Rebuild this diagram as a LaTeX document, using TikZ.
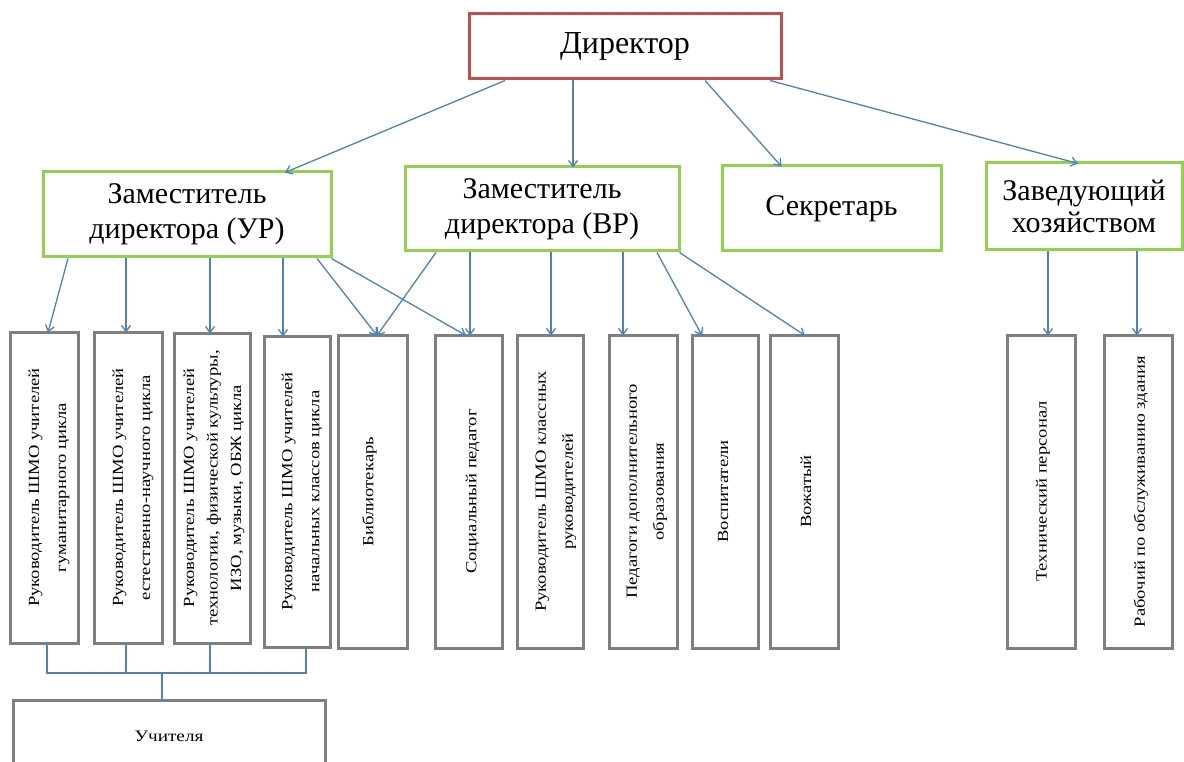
\documentclass[tikz,border=0pt]{standalone}
\usepackage{fontspec}
\setmainfont{Liberation Serif}
\newfontfamily\vfont[FakeStretch=1.2]{Liberation Serif}
\usetikzlibrary{arrows.meta}
\definecolor{dirred}{HTML}{C0504D}
\definecolor{depgreen}{HTML}{92D050}
\definecolor{boxgray}{HTML}{7F7F7F}
\definecolor{linkblue}{HTML}{4F81BD}
\tikzset{
  headbox/.style={draw=dirred, line width=3pt, fill=white, inner sep=0pt, align=center,
    font=\fontsize{32}{38}\selectfont},
  depbox/.style={draw=depgreen, line width=3pt, fill=white, inner sep=0pt, align=center,
    font=\fontsize{30}{35}\selectfont},
  staffbox/.style={draw=boxgray, line width=3pt, fill=white, inner sep=0pt},
  vtext/.style={rotate=90, align=center, inner sep=0pt,
    font=\vfont\fontsize{15.5}{27}\selectfont},
  link/.style={draw=linkblue, line width=1.3pt},
  arr/.style={link, -{Straight Barb[length=6pt,width=9pt,line width=1.3pt]}},
}
\begin{document}
\begin{tikzpicture}[x=1pt,y=-1pt]
\clip (0,0) rectangle (1184,762);
\fill[white] (0,0) rectangle (1184,762);

% top level
\node[headbox, minimum width=312, minimum height=65] (dir) at (625,46.5) {Директор};

% second level
\node[depbox, minimum width=288, minimum height=85] (ur) at (187,214.5) {Заместитель\\директора (УР)};
\node[depbox, minimum width=274, minimum height=84] (vr) at (542,209) {Заместитель\\директора (ВР)};
\node[depbox, minimum width=219, minimum height=85] (sec) at (831.5,208.5) {Секретарь};
\node[depbox, minimum width=196, minimum height=87, font=\fontsize{30}{32}\selectfont] (zav) at (1084,206.5) {Заведующий\\хозяйством};

% third level boxes
\node[staffbox, minimum width=68, minimum height=311] (b1) at (44,487.5) {};
\node[staffbox, minimum width=68, minimum height=311] (b2) at (128,487.5) {};
\node[staffbox, minimum width=76, minimum height=310] (b3) at (212,488) {};
\node[staffbox, minimum width=66, minimum height=311] (b4) at (297,491.5) {};
\node[staffbox, minimum width=69, minimum height=313] (b5) at (372.5,491.5) {};
\node[staffbox, minimum width=67, minimum height=313] (b6) at (468.5,491.5) {};
\node[staffbox, minimum width=66, minimum height=313] (b7) at (550,491.5) {};
\node[staffbox, minimum width=68, minimum height=313] (b8) at (643,491.5) {};
\node[staffbox, minimum width=66, minimum height=313] (b9) at (725,491.5) {};
\node[staffbox, minimum width=68, minimum height=313] (b10) at (804,491.5) {};
\node[staffbox, minimum width=68, minimum height=313] (b11) at (1041,491.5) {};
\node[staffbox, minimum width=68, minimum height=313] (b12) at (1138,491.5) {};

% vertical texts
\node[vtext] (t1) at ([xshift=5pt]b1.center) {Руководитель ШМО учителей\\гуманитарного цикла};
\node[vtext] (t2) at ([xshift=5pt]b2.center) {Руководитель ШМО учителей\\естественно-научного цикла};
\node[vtext, font=\vfont\fontsize{15.5}{23.5}\selectfont] (t3) at ([xshift=2pt]b3.center) {Руководитель ШМО учителей\\технологии, физической культуры,\\ИЗО, музыки, ОБЖ цикла};
\node[vtext] (t4) at ([xshift=5pt]b4.center) {Руководитель ШМО учителей\\начальных классов цикла};
\node[vtext] (t5) at ([xshift=-3pt]b5.center) {Библиотекарь};
\node[vtext] (t6) at ([xshift=4pt]b6.center) {Социальный педагог};
\node[vtext] (t7) at ([xshift=6pt]b7.center) {Руководитель ШМО классных\\руководителей};
\node[vtext] (t8) at ([xshift=4pt]b8.center) {Педагоги дополнительного\\образования};
\node[vtext] (t9) at ([xshift=-2pt]b9.center) {Воспитатели};
\node[vtext] (t10) at ([xshift=2pt]b10.center) {Вожатый};
\node[vtext] (t11) at ([xshift=2pt]b11.center) {Технический персонал};
\node[vtext] (t12) at ([xshift=3pt]b12.center) {Рабочий по обслуживанию здания};

% teachers
\node[staffbox, minimum width=312, minimum height=72, font=\vfont\fontsize{16}{19}\selectfont] (teach) at (169,736) {Учителя};

% director arrows
\draw[arr] ([xshift=-120pt]dir.south) -- ([xshift=98pt,yshift=-2pt]ur.north);
\draw[arr] ([xshift=-52pt]dir.south) -- ([xshift=31pt,yshift=-2pt]vr.north);
\draw[arr] ([xshift=80pt]dir.south) -- ([xshift=-50pt,yshift=-2pt]sec.north);
\draw[arr] ([xshift=145pt]dir.south) -- ([xshift=-6pt,yshift=-2pt]zav.north);

% УР arrows
\draw[arr] ([xshift=-119pt]ur.south) -- ([xshift=4pt,yshift=-2pt]b1.north);
\draw[arr] ([xshift=-61pt]ur.south) -- ([xshift=-2pt,yshift=-2pt]b2.north);
\draw[arr] ([xshift=23pt]ur.south) -- ([xshift=-2pt,yshift=-2pt]b3.north);
\draw[arr] ([xshift=96pt]ur.south) -- ([xshift=-14pt,yshift=-2pt]b4.north);
\draw[arr] ([xshift=130pt]ur.south) -- ([xshift=4.5pt,yshift=-2pt]b5.north);
\draw[arr] ([xshift=-1pt]ur.south east) -- ([xshift=-2.5pt,yshift=-2pt]b6.north);

% ВР arrows
\draw[arr] ([xshift=-106pt]vr.south) -- ([xshift=4.5pt,yshift=-2pt]b5.north);
\draw[arr] ([xshift=-72pt]vr.south) -- ([xshift=1.5pt,yshift=-2pt]b6.north);
\draw[arr] ([xshift=9pt]vr.south) -- ([xshift=1pt,yshift=-2pt]b7.north);
\draw[arr] ([xshift=81pt]vr.south) -- ([xshift=-20pt,yshift=-2pt]b8.north);
\draw[arr] ([xshift=115pt]vr.south) -- ([xshift=-23pt,yshift=-2pt]b9.north);
\draw[arr] ([xshift=-1pt]vr.south east) -- ([xshift=1pt,yshift=-2pt]b10.north);

% Завхоз arrows
\draw[arr] ([xshift=-36pt]zav.south) -- ([xshift=7pt,yshift=-2pt]b11.north);
\draw[arr] ([xshift=53pt]zav.south) -- ([xshift=-1pt,yshift=-2pt]b12.north);

% bus to teachers
\coordinate (bus) at (162,673);
\draw[link] ([xshift=3pt]b1.south) -- ([xshift=3pt]b1.south |- bus) -- ([xshift=9pt]b4.south |- bus) -- ([xshift=9pt]b4.south);
\draw[link] ([xshift=-2pt]b2.south) -- ([xshift=-2pt]b2.south |- bus);
\draw[link] ([xshift=-2pt]b3.south) -- ([xshift=-2pt]b3.south |- bus);
\draw[link] (bus) -- ([xshift=-7pt]teach.north);
\end{tikzpicture}
\end{document}
